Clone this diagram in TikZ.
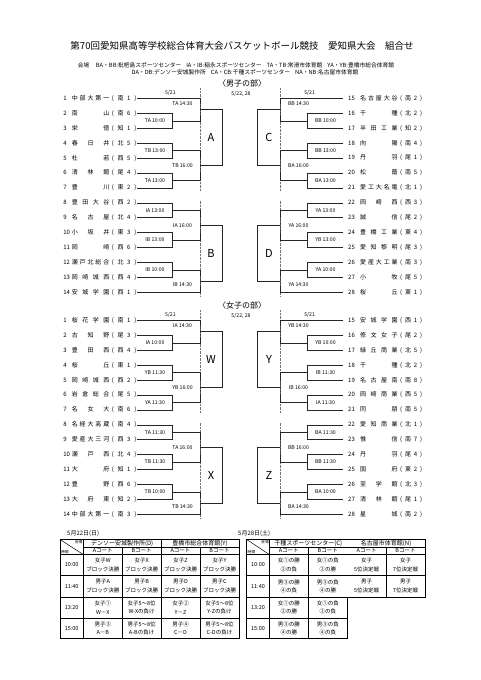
\documentclass[tikz,border=0pt]{standalone}
\usepackage{fontspec}
\setmainfont{Noto Sans CJK JP}
% spread the characters of a name over its box
\def\sprd#1{\sprdA#1\sprdEnd}
\def\sprdA#1#2\sprdEnd{#1\ifx\relax#2\relax\else\hfill\sprdA#2\sprdEnd\fi}
\newcommand{\tmL}[3]{\edef\tmpnm{#2}\edef\tmprg{(#3)}%
  \makebox[8.5pt][l]{#1}\makebox[37.5pt]{\expandafter\sprd\expandafter{\tmpnm}}%
  \hspace{2.5pt}\makebox[24.5pt]{\expandafter\sprd\expandafter{\tmprg}}}
\newcommand{\tmR}[3]{\edef\tmpnm{#2}\edef\tmprg{(#3)}%
  \hspace*{4.5pt}\makebox[12pt][l]{#1}\makebox[37.5pt]{\expandafter\sprd\expandafter{\tmpnm}}%
  \hspace{2.5pt}\makebox[22pt]{\expandafter\sprd\expandafter{\tmprg}}}

\begin{document}
\begin{tikzpicture}[x=1pt, y=-1pt,
  brk/.style={line width=0.6pt, black!85},
  sepl/.style={densely dotted, line width=0.4pt, black!55},
  team/.style={font=\fontsize{6}{7}\selectfont, inner sep=0.5pt},
  tlab/.style={font=\fontsize{5.2}{6}\selectfont, inner sep=0pt},
  blk/.style={font=\fontsize{11}{12}\selectfont, inner sep=0pt},
  tline/.style={line width=0.5pt},
  touter/.style={line width=0.85pt},
  head/.style={font=\fontsize{6}{7}\selectfont, inner sep=0pt},
  cell/.style={font=\fontsize{5.5}{8.5}\selectfont, align=center, inner sep=0pt},
  corner/.style={font=\fontsize{3.8}{4}\selectfont, inner sep=0pt}
]
\fill[white] (0,0) rectangle (481,680);
% title and venues
\node[font=\fontsize{9.5}{11}\selectfont] (title) at (242,46)
  {第70回愛知県高等学校総合体育大会バスケットボール競技　愛知県大会　組合せ};
\node[font=\fontsize{5.6}{7}\selectfont] (kaijo) at (83.5,65) {会場};
\node[font=\fontsize{5.75}{7.2}\selectfont, align=center] (venues) at (245,68.6)
  {BA・BB:枇杷島スポーツセンター\hspace{5pt}IA・IB:稲永スポーツセンター\hspace{5pt}TA・TB:常滑市体育館\hspace{5pt}YA・YB:豊橋市総合体育館\\
   DA・DB:デンソー安城製作所\hspace{5pt}CA・CB:千種スポーツセンター\hspace{5pt}NA・NB:名古屋市体育館};
\node[font=\fontsize{8}{9}\selectfont] (hmen) at (242,83.5) {〈男子の部〉};
\node[font=\fontsize{8}{9}\selectfont] (hwom) at (242,305.5) {〈女子の部〉};
% the teams
\foreach \i/\nm/\rg in {1/中部大第一/南1, 2/南山/南6, 3/栄徳/知1, 4/春日井/北5,
  5/杜若/西5, 6/清林館/尾4, 7/豊川/東2, 8/豊田大谷/西2, 9/名古屋/北4, 10/小坂井/東3,
  11/岡崎/西6, 12/瀬戸北総合/北3, 13/岡崎城西/西4, 14/安城学園/西1}
  \node[team, anchor=east] (m\i) at (137,{98.5+14.9*(\i-1)}) {\tmL{\i}{\nm}{\rg}};
\foreach \i/\nm/\rg in {15/名古屋大谷/南2, 16/千種/北2, 17/半田工業/知2, 18/向陽/南4,
  19/丹羽/尾1, 20/松蔭/南5, 21/愛工大名電/北1, 22/岡崎西/西3, 23/誠信/尾2, 24/豊橋工業/東4,
  25/愛知黎明/尾3, 26/愛産大工業/南3, 27/小牧/尾5, 28/桜丘/東1}
  \node[team, anchor=west] (m\i) at (343,{98.5+14.9*(\i-15)}) {\tmR{\i}{\nm}{\rg}};
\foreach \i/\nm/\rg in {1/桜花学園/南1, 2/古知野/尾3, 3/豊田西/西4, 4/桜丘/東1,
  5/岡崎城西/西2, 6/岩倉総合/尾5, 7/名女大/南6, 8/名経大高蔵/南4, 9/愛産大三河/西3,
  10/瀬戸西/北4, 11/大府/知1, 12/豊野/西6, 13/大府東/知2, 14/中部大第一/南3}
  \node[team, anchor=east] (w\i) at (137,{320.5+14.9*(\i-1)}) {\tmL{\i}{\nm}{\rg}};
\foreach \i/\nm/\rg in {15/安城学園/西1, 16/修文女子/尾2, 17/緑丘商業/北5, 18/千種/北2,
  19/名古屋南/南8, 20/岡崎商業/西5, 21/同朋/南5, 22/愛知商業/北1, 23/惟信/南7, 24/丹羽/尾4,
  25/国府/東2, 26/至学館/北3, 27/清林館/尾1, 28/星城/南2}
  \node[team, anchor=west] (w\i) at (343,{320.5+14.9*(\i-15)}) {\tmR{\i}{\nm}{\rg}};
% the brackets, men (m) and women (w)
\foreach \g/\dy/\la/\lb/\lc/\ld in {m/0/A/B/C/D, w/222/W/X/Y/Z} {
  \draw[sepl] (200,{88+\dy}) -- (200,{190.5+\dy});
  \draw[sepl] (200,{200.5+\dy}) -- (200,{297+\dy});
  \draw[sepl] (280,{88+\dy}) -- (280,{190.5+\dy});
  \draw[sepl] (280,{200.5+\dy}) -- (280,{297+\dy});
  % upper left
  \coordinate (\g p23) at (172.7,{120.85+\dy});
  \coordinate (\g p45) at (172.7,{150.65+\dy});
  \coordinate (\g p67) at (172.7,{180.45+\dy});
  \coordinate (\g sa1) at (200,{109.675+\dy});
  \coordinate (\g sa2) at (200,{165.55+\dy});
  \coordinate (\g bxa) at (222.7,{137.61+\dy});
  \draw[brk] (\g2.east) -| (\g p23) |- (\g3.east);
  \draw[brk] (\g4.east) -| (\g p45) |- (\g5.east);
  \draw[brk] (\g6.east) -| (\g p67) |- (\g7.east);
  \draw[brk] (\g1.east) -| (\g sa1) |- (\g p23);
  \draw[brk] (\g p45) -| (\g sa2) |- (\g p67);
  \draw[brk] (\g sa1) -| (\g bxa) |- (\g sa2);
  \node[blk] (\g la) at (211,{137.61+\dy}) {\la};
  % lower left
  \coordinate (\g p89) at (172.7,{210.25+\dy});
  \coordinate (\g p1011) at (172.7,{240.05+\dy});
  \coordinate (\g p1213) at (172.7,{269.85+\dy});
  \coordinate (\g sb1) at (200,{225.15+\dy});
  \coordinate (\g sb2) at (200,{281.025+\dy});
  \coordinate (\g bxb) at (222.7,{253.09+\dy});
  \draw[brk] (\g8.east) -| (\g p89) |- (\g9.east);
  \draw[brk] (\g10.east) -| (\g p1011) |- (\g11.east);
  \draw[brk] (\g12.east) -| (\g p1213) |- (\g13.east);
  \draw[brk] (\g p89) -| (\g sb1) |- (\g p1011);
  \draw[brk] (\g p1213) -| (\g sb2) |- (\g14.east);
  \draw[brk] (\g sb1) -| (\g bxb) |- (\g sb2);
  \node[blk] (\g lb) at (211,{253.09+\dy}) {\lb};
  % upper right
  \coordinate (\g p1617) at (307.3,{120.85+\dy});
  \coordinate (\g p1819) at (307.3,{150.65+\dy});
  \coordinate (\g p2021) at (307.3,{180.45+\dy});
  \coordinate (\g sc1) at (280,{109.675+\dy});
  \coordinate (\g sc2) at (280,{165.55+\dy});
  \coordinate (\g bxc) at (257.3,{137.61+\dy});
  \draw[brk] (\g16.west) -| (\g p1617) |- (\g17.west);
  \draw[brk] (\g18.west) -| (\g p1819) |- (\g19.west);
  \draw[brk] (\g20.west) -| (\g p2021) |- (\g21.west);
  \draw[brk] (\g15.west) -| (\g sc1) |- (\g p1617);
  \draw[brk] (\g p1819) -| (\g sc2) |- (\g p2021);
  \draw[brk] (\g sc1) -| (\g bxc) |- (\g sc2);
  \node[blk] (\g lc) at (269,{137.61+\dy}) {\lc};
  % lower right
  \coordinate (\g p2223) at (307.3,{210.25+\dy});
  \coordinate (\g p2425) at (307.3,{240.05+\dy});
  \coordinate (\g p2627) at (307.3,{269.85+\dy});
  \coordinate (\g sd1) at (280,{225.15+\dy});
  \coordinate (\g sd2) at (280,{281.025+\dy});
  \coordinate (\g bxd) at (257.3,{253.09+\dy});
  \draw[brk] (\g22.west) -| (\g p2223) |- (\g23.west);
  \draw[brk] (\g24.west) -| (\g p2425) |- (\g25.west);
  \draw[brk] (\g26.west) -| (\g p2627) |- (\g27.west);
  \draw[brk] (\g p2223) -| (\g sd1) |- (\g p2425);
  \draw[brk] (\g p2627) -| (\g sd2) |- (\g28.west);
  \draw[brk] (\g sd1) -| (\g bxd) |- (\g sd2);
  \node[blk] (\g ld) at (269,{253.09+\dy}) {\ld};
  % dates
  \node[tlab] (\g dl) at (170.4,{92.7+\dy}) {5/21};
  \node[tlab] (\g dr) at (309.6,{92.7+\dy}) {5/21};
  \node[tlab] (\g dc) at (241,{93.5+\dy}) {5/22, 28};
}
% match times, men
\node[tlab] (tA1) at (182.5,104) {TA 14:30};
\node[tlab] (tA2) at (155,120.85) {TA 10:00};
\node[tlab] (tA3) at (155,150.65) {TB 13:00};
\node[tlab] (tA4) at (155,180.45) {TA 13:00};
\node[tlab] (tA5) at (182.5,165.55) {TB 16:00};
\node[tlab] (tB1) at (155,210.25) {IA 13:00};
\node[tlab] (tB2) at (155,240.05) {IB 13:00};
\node[tlab] (tB3) at (182.5,225.15) {IA 16:00};
\node[tlab] (tB4) at (155,269.85) {IB 10:00};
\node[tlab] (tB5) at (182.5,284.7) {IB 14:30};
\node[tlab] (tC1) at (298.5,104) {BB 14:30};
\node[tlab] (tC2) at (325.5,120.85) {BB 10:00};
\node[tlab] (tC3) at (325.5,150.65) {BB 13:00};
\node[tlab] (tC4) at (325.5,180.45) {BA 13:00};
\node[tlab] (tC5) at (298.5,165.55) {BA 16:00};
\node[tlab] (tD1) at (325.5,210.25) {YA 13:00};
\node[tlab] (tD2) at (325.5,240.05) {YB 13:00};
\node[tlab] (tD3) at (298.5,225.15) {YA 16:00};
\node[tlab] (tD4) at (325.5,269.85) {YA 10:00};
\node[tlab] (tD5) at (298.5,284.7) {YA 14:30};
% match times, women
\node[tlab] (tW1) at (182.5,326) {IA 14:30};
\node[tlab] (tW2) at (155,342.85) {IA 10:00};
\node[tlab] (tW3) at (155,372.65) {YB 11:30};
\node[tlab] (tW4) at (155,402.45) {YA 11:30};
\node[tlab] (tW5) at (182.5,387.55) {YB 16:00};
\node[tlab] (tX1) at (155,432.25) {TA 11:30};
\node[tlab] (tX2) at (155,462.05) {TB 11:30};
\node[tlab] (tX3) at (182.5,447.15) {TA 16:00};
\node[tlab] (tX4) at (155,491.85) {TB 10:00};
\node[tlab] (tX5) at (182.5,506.7) {TB 14:30};
\node[tlab] (tY1) at (298.5,326) {YB 14:30};
\node[tlab] (tY2) at (325.5,342.85) {YB 10:00};
\node[tlab] (tY3) at (325.5,372.65) {IB 11:30};
\node[tlab] (tY4) at (325.5,402.45) {IA 11:30};
\node[tlab] (tY5) at (298.5,387.55) {IB 16:00};
\node[tlab] (tZ1) at (325.5,432.25) {BA 11:30};
\node[tlab] (tZ2) at (325.5,462.05) {BB 11:30};
\node[tlab] (tZ3) at (298.5,447.15) {BB 16:00};
\node[tlab] (tZ4) at (325.5,491.85) {BA 10:00};
\node[tlab] (tZ5) at (298.5,506.7) {BA 14:30};
% table of 5/22
\node[head, anchor=west] (day22) at (67,534) {5月22日(日)};
\draw[tline] (83.3,547) -- (239,547);
\foreach \y in {554.5,575.5,597,618} \draw[tline] (60,\y) -- (239,\y);
\draw[tline] (83.3,539.5) -- (83.3,638.5);
\draw[tline] (161,539.5) -- (161,638.5);
\foreach \x in {122.3,200} \draw[tline] (\x,547) -- (\x,638.5);
\draw[tline] (60,539.5) -- (83.3,554.5);
\draw[touter] (60,539.5) rectangle (239,638.5);
\node[corner, anchor=north east] (kl) at (82.6,540.4) {会場};
\node[corner, anchor=south west] (jl) at (60.8,553.8) {時間};
\node[head] (hD) at (122.15,543.25) {デンソー安城製作所(D)};
\node[head] (hY) at (200,543.25) {豊橋市総合体育館(Y)};
\foreach \x/\c [count=\k] in {102.8/A,141.65/B,180.5/A,219.5/B}
  \node[cell] (cl\k) at (\x,550.75) {\c コート};
\foreach \y/\t [count=\k] in {565/10:00,586.25/11:40,607.5/13:20,628.25/15:00}
  \node[cell] (hl\k) at (71.65,\y) {\t};
\node[cell] (l11) at (102.8,565) {女子W\\ブロック決勝};
\node[cell] (l12) at (141.65,565) {女子X\\ブロック決勝};
\node[cell] (l13) at (180.5,565) {女子Z\\ブロック決勝};
\node[cell] (l14) at (219.5,565) {女子Y\\ブロック決勝};
\node[cell] (l21) at (102.8,586.25) {男子A\\ブロック決勝};
\node[cell] (l22) at (141.65,586.25) {男子B\\ブロック決勝};
\node[cell] (l23) at (180.5,586.25) {男子D\\ブロック決勝};
\node[cell] (l24) at (219.5,586.25) {男子C\\ブロック決勝};
\node[cell] (l31) at (102.8,607.5) {女子①\\W－X};
\node[cell] (l32) at (141.65,607.5) {女子5～8位\\W-Xの負け};
\node[cell] (l33) at (180.5,607.5) {女子②\\Y－Z};
\node[cell] (l34) at (219.5,607.5) {女子5～8位\\Y-Zの負け};
\node[cell] (l41) at (102.8,628.25) {男子③\\A－B};
\node[cell] (l42) at (141.65,628.25) {男子5～8位\\A-Bの負け};
\node[cell] (l43) at (180.5,628.25) {男子④\\C－D};
\node[cell] (l44) at (219.5,628.25) {男子5～8位\\C-Dの負け};
% table of 5/28
\node[head, anchor=west] (day28) at (238,534) {5月28日(土)};
\draw[tline] (269.3,547) -- (425,547);
\foreach \y in {554.5,575.5} \draw[tline] (246.7,\y) -- (425,\y);
\foreach \y in {597,618} \draw[tline] (246.7,\y) -- (347.3,\y);
\draw[tline] (269.3,539.5) -- (269.3,638.5);
\draw[tline] (308.3,547) -- (308.3,638.5);
\draw[tline] (386,547) -- (386,597);
\draw[tline] (246.7,539.5) -- (269.3,554.5);
\draw[touter] (246.7,539.5) -- (425,539.5) -- (425,597) -- (347.3,597)
  -- (347.3,638.5) -- (246.7,638.5) -- cycle;
\node[corner, anchor=north east] (kr) at (269,540.4) {会場};
\node[corner, anchor=south west] (jr) at (247.5,553.8) {時間};
\node[head] (hC) at (308.3,543.25) {千種スポーツセンター(C)};
\node[head] (hN) at (386.15,543.25) {名古屋市体育館(N)};
\foreach \x/\c [count=\k] in {288.8/A,327.8/B,366.65/A,405.5/B}
  \node[cell] (cr\k) at (\x,550.75) {\c コート};
\foreach \y/\t [count=\k] in {565/10:00,586.25/11:40,607.5/13:20,628.25/15:00}
  \node[cell] (hr\k) at (258,\y) {\t};
\node[cell] (r11) at (288.8,565) {女①の勝\\②の負};
\node[cell] (r12) at (327.8,565) {女①の負\\②の勝};
\node[cell] (r13) at (366.65,565) {女子\\5位決定戦};
\node[cell] (r14) at (405.5,565) {女子\\7位決定戦};
\node[cell] (r21) at (288.8,586.25) {男③の勝\\④の負};
\node[cell] (r22) at (327.8,586.25) {男③の負\\④の勝};
\node[cell] (r23) at (366.65,586.25) {男子\\5位決定戦};
\node[cell] (r24) at (405.5,586.25) {男子\\7位決定戦};
\node[cell] (r31) at (288.8,607.5) {女①の勝\\②の勝};
\node[cell] (r32) at (327.8,607.5) {女①の負\\②の負};
\node[cell] (r41) at (288.8,628.25) {男③の勝\\④の勝};
\node[cell] (r42) at (327.8,628.25) {男③の負\\④の負};
\end{tikzpicture}
\end{document}
